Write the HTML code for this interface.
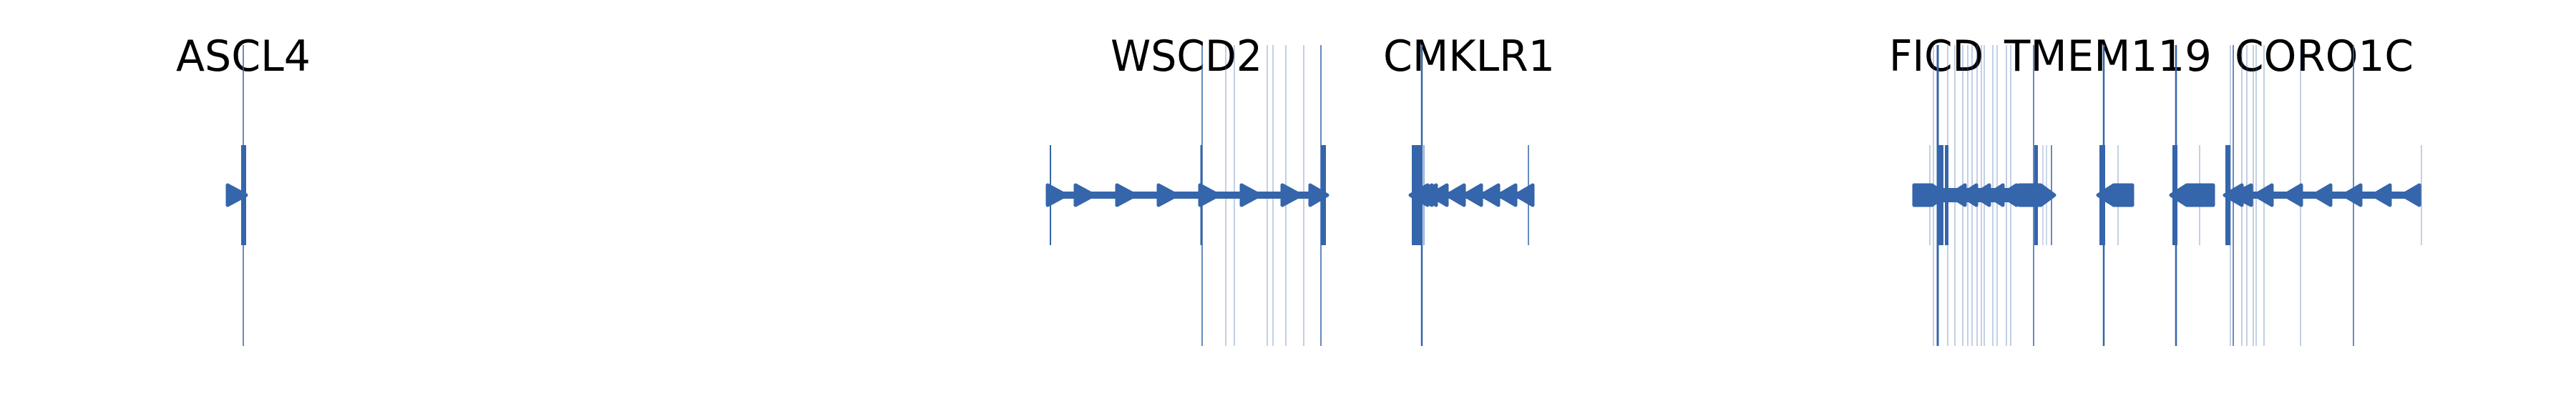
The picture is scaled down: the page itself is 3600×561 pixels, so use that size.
<!DOCTYPE html>
<html><head><meta charset="utf-8"><style>html,body{margin:0;padding:0;background:#fff}svg{display:block}</style></head>
<body>
<svg width="3600" height="561" viewBox="0 0 3600 561" xmlns="http://www.w3.org/2000/svg">
<g font-family="DejaVu Sans, Liberation Sans, sans-serif" font-size="60" fill="#000">
<text x="246" y="99" textLength="188" lengthAdjust="spacingAndGlyphs">ASCL4</text>
<text x="1552" y="99" textLength="212" lengthAdjust="spacingAndGlyphs">WSCD2</text>
<text x="1933" y="99" textLength="240" lengthAdjust="spacingAndGlyphs">CMKLR1</text>
<text x="2640" y="99" textLength="132" lengthAdjust="spacingAndGlyphs">FICD</text>
<text x="2801" y="99" textLength="290" lengthAdjust="spacingAndGlyphs">TMEM119</text>
<text x="3123" y="99" textLength="250" lengthAdjust="spacingAndGlyphs">CORO1C</text>
</g>
<g stroke="#3565aa" fill="none">
<!-- long thin lines -->
<g stroke-width="1.5">
<line x1="340" y1="63" x2="340" y2="484"/>
<line x1="1680" y1="63" x2="1680" y2="484"/>
<line x1="1846" y1="63" x2="1846" y2="484"/>
<line x1="1987" y1="63" x2="1987" y2="484" stroke-width="2.5"/>
<line x1="2708" y1="63" x2="2708" y2="484" stroke-width="3"/>
<line x1="2842" y1="63" x2="2842" y2="484"/>
<line x1="2940" y1="63" x2="2940" y2="484" stroke-width="2.5"/>
<line x1="3041" y1="63" x2="3041" y2="484" stroke-width="2.5"/>
<line x1="3121" y1="63" x2="3121" y2="484"/>
<line x1="3289" y1="63" x2="3289" y2="484"/>
</g>
<g stroke-width="1" opacity="0.6">
<line x1="1713" y1="63" x2="1713" y2="484"/>
<line x1="1725" y1="63" x2="1725" y2="484"/>
<line x1="1771" y1="63" x2="1771" y2="484"/>
<line x1="1779" y1="63" x2="1779" y2="484"/>
<line x1="1797" y1="63" x2="1797" y2="484"/>
<line x1="1822" y1="63" x2="1822" y2="484"/>
<line x1="2702" y1="63" x2="2702" y2="484"/>
<line x1="2722" y1="63" x2="2722" y2="484"/>
<line x1="2732" y1="63" x2="2732" y2="484"/>
<line x1="2743" y1="63" x2="2743" y2="484"/>
<line x1="2750" y1="63" x2="2750" y2="484"/>
<line x1="2756" y1="63" x2="2756" y2="484"/>
<line x1="2763" y1="63" x2="2763" y2="484"/>
<line x1="2769" y1="63" x2="2769" y2="484"/>
<line x1="2773" y1="63" x2="2773" y2="484"/>
<line x1="2785" y1="63" x2="2785" y2="484"/>
<line x1="2791" y1="63" x2="2791" y2="484"/>
<line x1="2804" y1="63" x2="2804" y2="484"/>
<line x1="2810" y1="63" x2="2810" y2="484"/>
<line x1="3117" y1="63" x2="3117" y2="484"/>
<line x1="3133" y1="63" x2="3133" y2="484"/>
<line x1="3140" y1="63" x2="3140" y2="484"/>
<line x1="3149" y1="63" x2="3149" y2="484"/>
<line x1="3153" y1="63" x2="3153" y2="484"/>
<line x1="3164" y1="63" x2="3164" y2="484"/>
<line x1="3215" y1="63" x2="3215" y2="484"/>
</g>
<!-- mid ticks -->
<g stroke-width="2">
<line x1="1468" y1="203" x2="1468" y2="343"/>
<line x1="1679" y1="203" x2="1679" y2="343" stroke-width="3"/>
<line x1="1990" y1="203" x2="1990" y2="343" stroke-width="1"/>
<line x1="2136" y1="203" x2="2136" y2="343" stroke-width="1.5"/>
<line x1="2697" y1="203" x2="2697" y2="343" stroke-width="1" opacity="0.6"/>
<line x1="2960" y1="203" x2="2960" y2="343" stroke-width="1" opacity="0.6"/>
<line x1="3074" y1="203" x2="3074" y2="343" stroke-width="1" opacity="0.6"/>
<line x1="3384" y1="203" x2="3384" y2="343" stroke-width="1" opacity="0.6"/>
<line x1="2855" y1="203" x2="2855" y2="343" stroke-width="1" opacity="0.5"/>
<line x1="2860" y1="203" x2="2860" y2="343" stroke-width="1" opacity="0.5"/>
<line x1="2867" y1="203" x2="2867" y2="343" stroke-width="1.5"/>
</g>
</g>
<g fill="#3565aa">
<!-- thick ticks -->
<rect x="337" y="203" width="7" height="140"/>
<rect x="1846" y="203" width="7" height="140"/>
<rect x="1973" y="203" width="15" height="140"/>
<rect x="2707" y="203" width="9" height="140"/>
<rect x="2718" y="203" width="5" height="140"/>
<rect x="2843" y="203" width="5" height="140"/>
<rect x="2934" y="203" width="8" height="140"/>
<rect x="3036" y="203" width="7" height="140"/>
<rect x="3110" y="203" width="7" height="140"/>
<!-- backbones -->
<rect x="1465" y="268" width="385" height="10"/>
<rect x="1975" y="268" width="165" height="10"/>
<rect x="3110" y="268" width="272" height="10"/>
<rect x="2700" y="263" width="130" height="20"/>
</g>
<g fill="#3565aa" stroke="#3565aa" stroke-width="5" stroke-linejoin="round">
<!-- ASCL4 -->
<polygon points="318,259 344,273 318,287"/>
<!-- WSCD2 right arrows -->
<polygon points="1464,259 1490,273 1464,287"/>
<polygon points="1503,259 1529,273 1503,287"/>
<polygon points="1561,259 1587,273 1561,287"/>
<polygon points="1619,259 1645,273 1619,287"/>
<polygon points="1677,259 1703,273 1677,287"/>
<polygon points="1735,259 1761,273 1735,287"/>
<polygon points="1792,259 1818,273 1792,287"/>
<polygon points="1831,259 1855,273 1831,287"/>
<!-- CMKLR1 left arrows -->
<polygon points="1971,273 1995,259 1995,287"/>
<polygon points="1977,273 2001,259 2001,287"/>
<polygon points="1983,273 2007,259 2007,287"/>
<polygon points="1998,273 2022,259 2022,287"/>
<polygon points="2022,273 2046,259 2046,287"/>
<polygon points="2046,273 2070,259 2070,287"/>
<polygon points="2070,273 2094,259 2094,287"/>
<polygon points="2094,273 2118,259 2118,287"/>
<polygon points="2118,273 2142,259 2142,287"/>
<!-- FICD -->
<polygon points="2675,259 2700,259 2710,266 2710,280 2700,287 2675,287"/>
<polygon points="2724,273 2746,259 2746,287"/>
<polygon points="2740,273 2762,259 2762,287"/>
<polygon points="2758,273 2780,259 2780,287"/>
<polygon points="2777,273 2799,259 2799,287"/>
<polygon points="2796,273 2818,259 2818,287"/>
<polygon points="2822,259 2852,259 2871,273 2852,287 2822,287"/>
<!-- TMEM119 -->
<polygon points="2932,273 2954,259 2980,259 2980,287 2954,287"/>
<polygon points="3034,273 3056,259 3093,259 3093,287 3056,287"/>
<!-- CORO1C left arrows -->
<polygon points="3109,273 3133,259 3133,287"/>
<polygon points="3119,273 3146,259 3146,287"/>
<polygon points="3151,273 3175,259 3175,287"/>
<polygon points="3192,273 3216,259 3216,287"/>
<polygon points="3233,273 3257,259 3257,287"/>
<polygon points="3275,273 3299,259 3299,287"/>
<polygon points="3316,273 3340,259 3340,287"/>
<polygon points="3357,273 3381,259 3381,287"/>
</g>
</svg>
</body></html>
